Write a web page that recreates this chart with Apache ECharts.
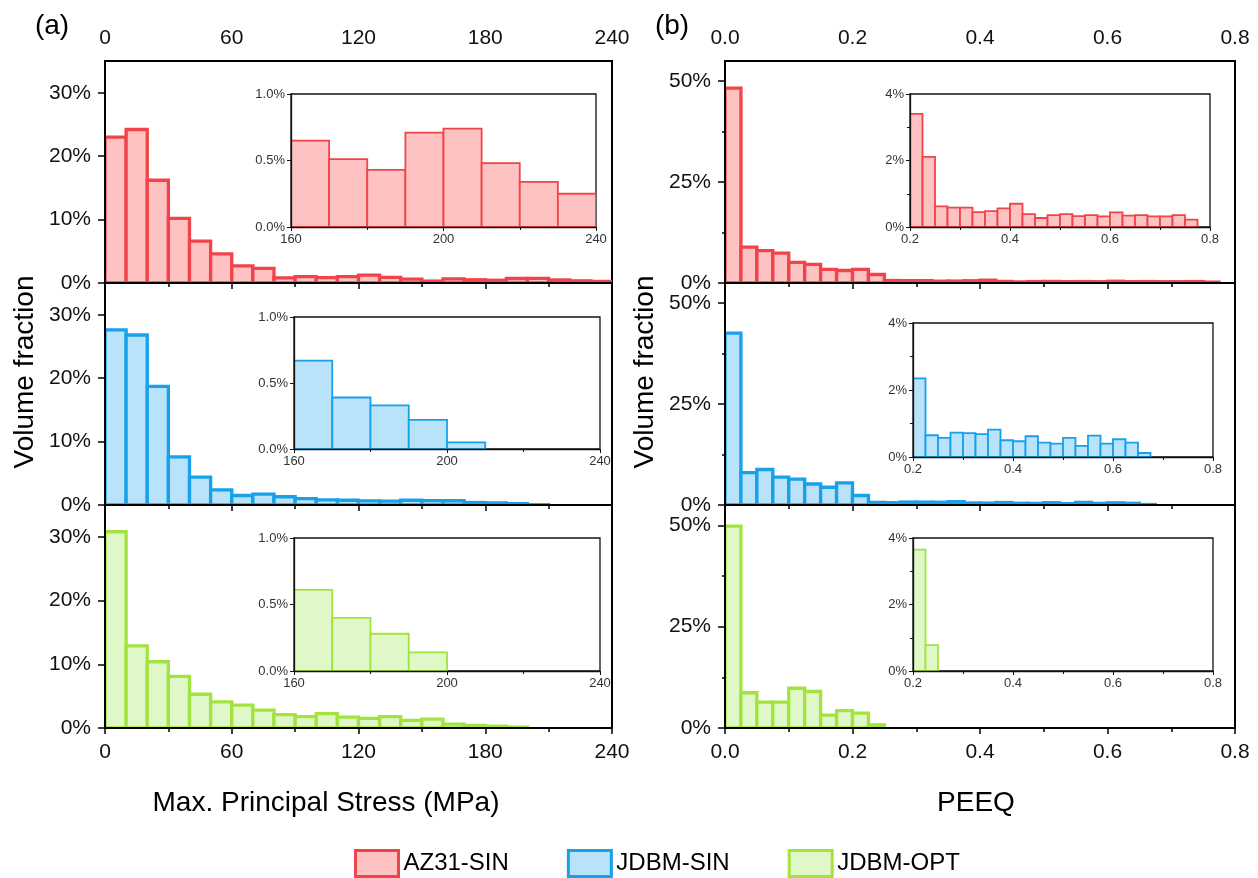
<!DOCTYPE html>
<html><head><meta charset="utf-8">
<script src="https://cdn.jsdelivr.net/npm/echarts@6/dist/echarts.min.js"></script>
<style>html,body{margin:0;padding:0;background:#fff}#c{width:1258px;height:878px}</style>
</head><body><div id="c"></div>
<script>
// ---------------- data ----------------
const seriesNames = ['AZ31-SIN', 'JDBM-SIN', 'JDBM-OPT'];
const strokeColors = ['#F0444A', '#18A0EA', '#A3E33F'];
const fillColors = ['#FFC2C2', '#B9E3FA', '#E0F8C8'];

const stressBinStart = [0,10,20,30,40,50,60,70,80,90,100,110,120,130,140,150,160,170,180,190,200,210,220,230];
const stressBinWidth = 10;
const peeqBinStart = [0,0.025,0.05,0.075,0.1,0.125,0.15,0.175,0.2,0.225,0.25,0.275,0.3,0.325,0.35,0.375,0.4,0.425,0.45,0.475,0.5,0.525,0.55,0.575,0.6,0.625,0.65,0.675,0.7,0.725,0.75,0.775];
const peeqBinWidth = 0.025;

// volume fraction (%) per bin
const stressAZ31    = [23.0,24.2,16.2,10.2,6.6,4.6,2.7,2.3,0.8,1.0,0.85,1.0,1.25,0.9,0.6,0.3,0.65,0.51,0.43,0.71,0.74,0.48,0.34,0.25];
const stressJDBMSIN = [27.6,26.8,18.7,7.6,4.4,2.4,1.5,1.7,1.3,1.0,0.8,0.75,0.65,0.6,0.75,0.7,0.67,0.39,0.33,0.22,0.05,0,0,0];
const stressJDBMOPT = [30.8,12.9,10.4,8.1,5.3,4.1,3.6,2.8,2.1,1.8,2.25,1.7,1.5,1.8,1.2,1.4,0.61,0.40,0.28,0.14,0,0,0,0];

const peeqAZ31    = [48.3,8.9,8.0,7.4,5.1,4.6,3.4,3.1,3.4,2.11,0.62,0.58,0.58,0.45,0.48,0.56,0.70,0.39,0.27,0.36,0.39,0.33,0.36,0.32,0.44,0.34,0.36,0.32,0.32,0.36,0.22,0];
const peeqJDBMSIN = [42.6,8.0,8.8,6.9,6.4,5.2,4.4,5.5,2.35,0.65,0.57,0.73,0.71,0.68,0.82,0.50,0.47,0.62,0.43,0.40,0.57,0.33,0.64,0.40,0.53,0.43,0.12,0,0,0,0,0];
const peeqJDBMOPT = [49.8,8.7,6.4,6.4,9.8,9.0,3.2,4.3,3.65,0.78,0,0,0,0,0,0,0,0,0,0,0,0,0,0,0,0,0,0,0,0,0,0];

const stressYLabels = [0, 10, 20, 30];
const peeqYLabels = [0, 25, 50];
const peeqYMinor = [12.5, 37.5];

// ---------------- layout ----------------
const FONT = 'Liberation Sans, Arial, Helvetica, sans-serif';
const stressData = [stressAZ31, stressJDBMSIN, stressJDBMOPT];
const peeqData = [peeqAZ31, peeqJDBMSIN, peeqJDBMOPT];

const mainBoxes = [
  [{left:105,top:61,width:507,height:222},{left:105,top:283,width:507,height:222},{left:105,top:505,width:507,height:223}],
  [{left:725,top:61,width:510,height:222},{left:725,top:283,width:510,height:222},{left:725,top:505,width:510,height:223}]
];
const insetBoxes = [
  [{left:291,top:94,width:305,height:133},{left:294,top:317,width:306,height:132},{left:294,top:538,width:306,height:133}],
  [{left:910,top:94,width:300,height:133},{left:913,top:323,width:300,height:134},{left:913,top:538,width:300,height:133}]
];

const grids = [], xAxes = [], yAxes = [], series = [];

function makeRender(stroke, fill, lw) {
  return function (params, api) {
    const a = api.coord([api.value(0), api.value(2)]);
    const b = api.coord([api.value(1), 0]);
    return {
      type: 'rect',
      shape: { x: a[0], y: a[1], width: b[0] - a[0], height: b[1] - a[1] },
      style: { fill: fill, stroke: stroke, lineWidth: lw }
    };
  };
}
function binData(starts, width, vals, xmin) {
  const out = [];
  for (let i = 0; i < starts.length; i++) {
    if (vals[i] > 0 && starts[i] >= xmin - 1e-9) out.push([starts[i], starts[i] + width, vals[i]]);
  }
  return out;
}

const black = '#000';
for (let c = 0; c < 2; c++) {
  const isStress = c === 0;
  const xmin = 0, xmax = isStress ? 240 : 0.8, xint = isStress ? 60 : 0.2;
  const xfmt = isStress ? (v => String(v)) : (v => v.toFixed(1));
  for (let r = 0; r < 3; r++) {
    // ---- main panel ----
    const gi = grids.length;
    grids.push(Object.assign({ show: true, borderColor: black, borderWidth: 2, backgroundColor: 'transparent', z: 0 }, mainBoxes[c][r]));
    xAxes.push({
      gridIndex: gi, type: 'value', position: 'top', min: xmin, max: xmax, interval: xint, z: 10,
      axisLine: { show: true, lineStyle: { color: black, width: 2 } },
      axisTick: { show: true, inside: true, length: 6, lineStyle: { color: black, width: 1.5 } },
      minorTick: { show: true, splitNumber: 2, length: 4, lineStyle: { color: black, width: 1.5 } },
      axisLabel: { show: r === 0, fontSize: 21, color: '#111', fontFamily: FONT, margin: 12, formatter: xfmt },
      splitLine: { show: false }
    });
    const xb = xAxes.length;
    xAxes.push({
      gridIndex: gi, type: 'value', position: 'bottom', min: xmin, max: xmax, interval: xint, z: 10,
      axisLine: { show: true, lineStyle: { color: black, width: 2 } },
      axisTick: { show: r === 2, inside: false, length: 6, lineStyle: { color: black, width: 1.5 } },
      minorTick: { show: r === 2, splitNumber: 2, length: 4, lineStyle: { color: black, width: 1.5 } },
      axisLabel: { show: r === 2, fontSize: 21, color: '#111', fontFamily: FONT, margin: 14, formatter: xfmt },
      splitLine: { show: false }
    });
    const yl = yAxes.length;
    const ymax = isStress ? 35 : 55, yint = isStress ? 10 : 25;
    const yLab = isStress ? stressYLabels : peeqYLabels;
    yAxes.push({
      gridIndex: gi, type: 'value', position: 'left', min: 0, max: ymax, interval: yint, z: 10,
      axisLine: { show: true, lineStyle: { color: black, width: 2 } },
      axisTick: { show: true, inside: false, length: 7, customValues: yLab, lineStyle: { color: black, width: 1.5 } },
      axisLabel: { show: true, fontSize: 21, color: '#111', fontFamily: FONT, margin: 14, customValues: yLab, formatter: '{value}%' },
      splitLine: { show: false }
    });
    if (!isStress) {
      yAxes.push({
        gridIndex: gi, type: 'value', position: 'left', min: 0, max: ymax, interval: yint, z: 10,
        axisLine: { show: false },
        axisTick: { show: true, inside: false, length: 3, customValues: peeqYMinor, lineStyle: { color: black, width: 1.5 } },
        axisLabel: { show: false },
        splitLine: { show: false }
      });
    }
    const vals = isStress ? stressData[r] : peeqData[r];
    const starts = isStress ? stressBinStart : peeqBinStart;
    const bw = isStress ? stressBinWidth : peeqBinWidth;
    series.push({
      type: 'custom', name: seriesNames[r], xAxisIndex: xb, yAxisIndex: yl, z: 2, silent: true, clip: true,
      encode: { x: [0, 1], y: 2 },
      renderItem: makeRender(strokeColors[r], fillColors[r], 3.3),
      data: binData(starts, bw, vals, 0)
    });

    // ---- inset ----
    const ii = grids.length;
    grids.push(Object.assign({ show: true, borderColor: '#111', borderWidth: 1.3, backgroundColor: '#fff', z: 3 }, insetBoxes[c][r]));
    const imin = isStress ? 160 : 0.2, imax = isStress ? 240 : 0.8, iint = isStress ? 40 : 0.2;
    const ix = xAxes.length;
    xAxes.push({
      gridIndex: ii, type: 'value', position: 'bottom', min: imin, max: imax, interval: iint, z: 5,
      axisLine: { show: true, lineStyle: { color: '#111', width: 1.3 } },
      axisTick: { show: true, inside: false, length: 4, lineStyle: { color: '#111', width: 1 } },
      minorTick: { show: true, splitNumber: 2, length: 3, lineStyle: { color: '#111', width: 1 } },
      axisLabel: { show: true, fontSize: 13, color: '#333', fontFamily: FONT, margin: 6, formatter: xfmt },
      splitLine: { show: false }
    });
    const iy = yAxes.length;
    yAxes.push({
      gridIndex: ii, type: 'value', position: 'left', min: 0, max: isStress ? 1 : 4, interval: isStress ? 0.5 : 2, z: 5,
      axisLine: { show: true, lineStyle: { color: '#111', width: 1.3 } },
      axisTick: { show: true, inside: false, length: 4, lineStyle: { color: '#111', width: 1 } },
      minorTick: { show: !isStress, splitNumber: 2, length: 3, lineStyle: { color: '#111', width: 1 } },
      axisLabel: { show: true, fontSize: 13, color: '#333', fontFamily: FONT, margin: 6,
        formatter: isStress ? (v => v.toFixed(1) + '%') : '{value}%' },
      splitLine: { show: false }
    });
    series.push({
      type: 'custom', name: seriesNames[r], xAxisIndex: ix, yAxisIndex: iy, z: 4, silent: true, clip: true,
      encode: { x: [0, 1], y: 2 },
      renderItem: makeRender(strokeColors[r], fillColors[r], 1.8),
      data: binData(starts, bw, vals, imin)
    });
  }
}

const chart = echarts.init(document.getElementById('c'), null, { renderer: 'canvas' });
chart.setOption({
  animation: false,
  backgroundColor: '#fff',
  textStyle: { fontFamily: FONT },
  grid: grids,
  xAxis: xAxes,
  yAxis: yAxes,
  series: series,
  legend: {
    left: 349, top: 844, itemWidth: 43, itemHeight: 26, itemGap: 58, selectedMode: false,
    textStyle: { fontSize: 24, color: '#000', fontFamily: FONT },
    data: seriesNames.map((n, i) => ({ name: n, icon: 'rect',
      itemStyle: { color: fillColors[i], borderColor: strokeColors[i], borderWidth: 3 } }))
  },
  graphic: [
    { type: 'text', x: 52, y: 26, style: { text: '(a)', align: 'center', verticalAlign: 'middle', fontSize: 28, fontFamily: FONT, fill: '#000' } },
    { type: 'text', x: 672, y: 26, style: { text: '(b)', align: 'center', verticalAlign: 'middle', fontSize: 28, fontFamily: FONT, fill: '#000' } },
    { type: 'text', x: 25, y: 372, rotation: Math.PI / 2, style: { text: 'Volume fraction', align: 'center', verticalAlign: 'middle', fontSize: 28, fontFamily: FONT, fill: '#000' } },
    { type: 'text', x: 645, y: 372, rotation: Math.PI / 2, style: { text: 'Volume fraction', align: 'center', verticalAlign: 'middle', fontSize: 28, fontFamily: FONT, fill: '#000' } },
    { type: 'text', x: 326, y: 803, style: { text: 'Max. Principal Stress (MPa)', align: 'center', verticalAlign: 'middle', fontSize: 28, fontFamily: FONT, fill: '#000' } },
    { type: 'text', x: 976, y: 803, style: { text: 'PEEQ', align: 'center', verticalAlign: 'middle', fontSize: 28, fontFamily: FONT, fill: '#000' } }
  ]
});
</script></body></html>
